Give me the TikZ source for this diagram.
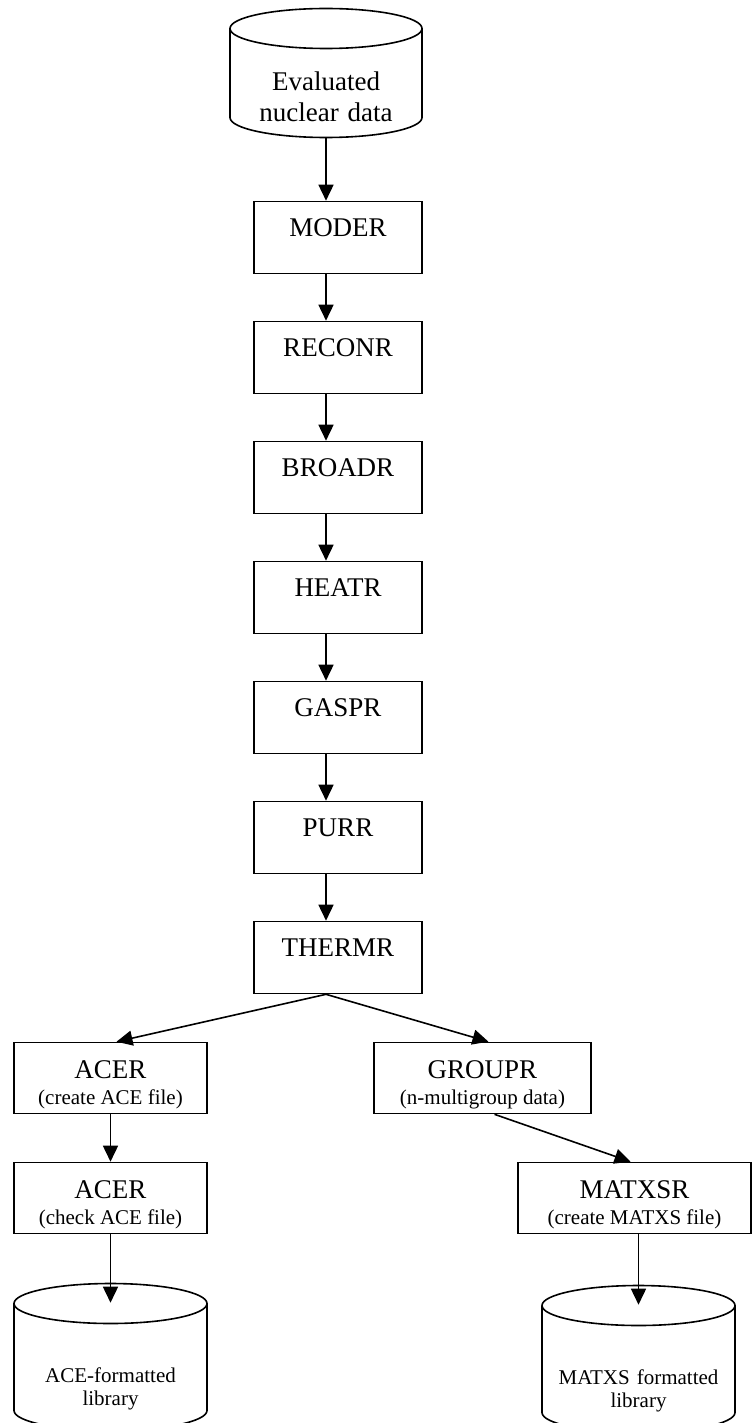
\documentclass[tikz,border=0pt]{standalone}
\usepackage{fontspec}
\setmainfont{Liberation Serif}
\usetikzlibrary{positioning,arrows.meta,shapes.geometric}
\newcommand{\subline}[1]{{\fontsize{10.5}{13}\selectfont #1}}

\begin{document}
\begin{tikzpicture}[node distance=23.2pt,
 box/.style={draw,line width=0.8pt,minimum width=84pt,minimum height=36pt,inner sep=0pt,
 font=\fontsize{13.5}{16}\selectfont,text height=8pt,text depth=9pt},
 subbox/.style={draw,line width=0.8pt,minimum height=35.5pt,inner sep=0pt,align=center,
 font=\fontsize{13.5}{13}\selectfont,text height=28pt,text depth=2pt},
 store/.style={draw,line width=0.8pt,cylinder,shape border rotate=90,aspect=0.25,
 inner sep=0pt,text width=80pt,align=center},
 libstore/.style={store,minimum width=96.5pt,minimum height=73.5pt,
 font=\fontsize{10.5}{11.5}\selectfont,text height=17pt,text depth=1.5pt},
 arr/.style={-{Triangle[length=8pt,width=7.5pt]},line width=0.8pt}]
\useasboundingbox (0,0) rectangle (376pt,-711.5pt);
\node[store,minimum width=96pt,minimum height=64.5pt,font=\fontsize{13.5}{15.5}\selectfont,
 text height=8.5pt,text depth=1.1pt,anchor=shape center] (data) at (163pt,-36.5pt)
 {Evaluated\\nuclear data};
\node[box,below=31.2pt of data,xshift=6pt] (moder) {MODER};
\node[box,below=of moder] (reconr) {RECONR};
\node[box,below=of reconr] (broadr) {BROADR};
\node[box,below=of broadr] (heatr) {HEATR};
\node[box,below=of heatr] (gaspr) {GASPR};
\node[box,below=of gaspr] (purr) {PURR};
\node[box,below=of purr] (thermr) {THERMR};
% branches below THERMR
\node[subbox,minimum width=96.5pt,below=23.7pt of thermr,xshift=-113.75pt] (acemk)
 {ACER\\\subline{(create ACE file)}};
\node[subbox,minimum width=108.5pt,below=23.7pt of thermr,xshift=72.25pt] (groupr)
 {GROUPR\\\subline{(n-multigroup data)}};
\node[subbox,minimum width=96.5pt,below=23.7pt of acemk] (acechk)
 {ACER\\\subline{(check ACE file)}};
\node[subbox,minimum width=116.5pt,below=23.7pt of groupr,xshift=76pt] (matxsr)
 {MATXSR\\\subline{(create MATXS file)}};
\node[libstore,below=24.2pt of acechk] (libace) {ACE-formatted\\library};
\node[libstore,below=25.2pt of matxsr,xshift=2pt] (libmatxs) {MATXS formatted\\library};
\draw[arr] (data.south) -- (data.south |- moder.north);
\draw[arr] (moder.south -| data.south) -- (reconr.north -| data.south);
\draw[arr] (reconr.south -| data.south) -- (broadr.north -| data.south);
\draw[arr] (broadr.south -| data.south) -- (heatr.north -| data.south);
\draw[arr] (heatr.south -| data.south) -- (gaspr.north -| data.south);
\draw[arr] (gaspr.south -| data.south) -- (purr.north -| data.south);
\draw[arr] (purr.south -| data.south) -- (thermr.north -| data.south);
\draw[arr] (thermr.south -| data.south) -- ([xshift=3pt]acemk.north);
\draw[arr] (thermr.south -| data.south) -- ([xshift=3pt]groupr.north);
\draw[arr] (acemk) -- (acechk);
\draw[arr] ([xshift=6pt]groupr.south) -- ([xshift=-2pt]matxsr.north);
\draw[arr] (acechk.south) -- ([yshift=-10pt]libace.north);
\draw[arr] (matxsr.south -| libmatxs.north) -- ([yshift=-10pt]libmatxs.north);
\end{tikzpicture}
\end{document}
